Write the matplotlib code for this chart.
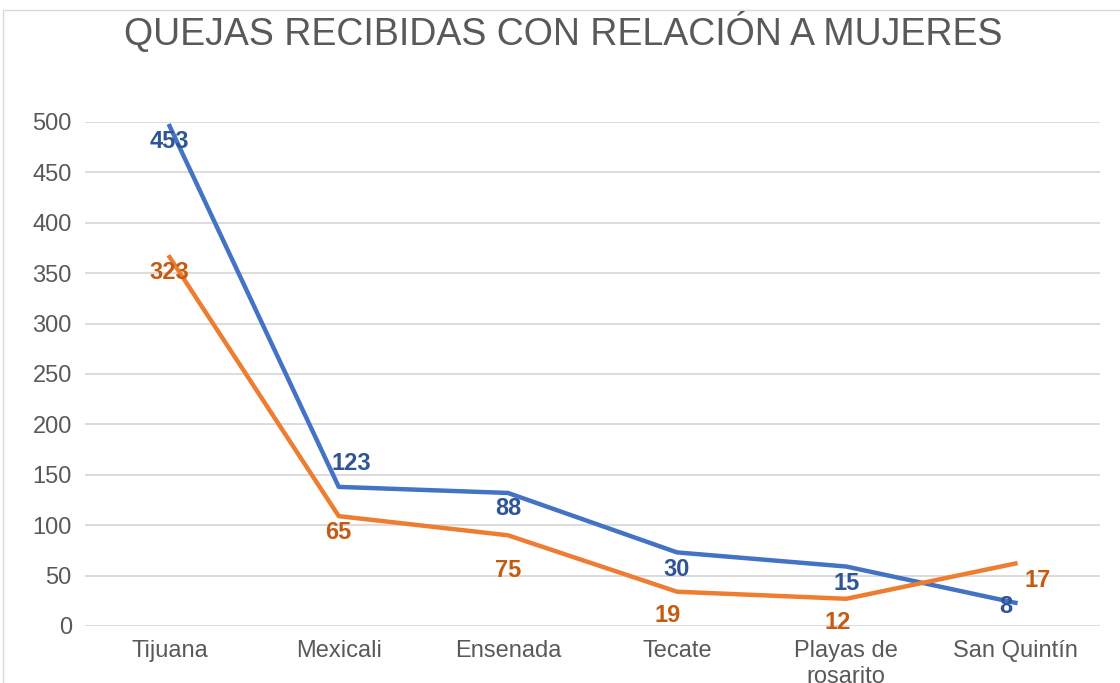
import matplotlib.pyplot as plt
from matplotlib.patches import Rectangle

plt.rcParams['font.family'] = ['Liberation Sans', 'DejaVu Sans']

municipios = ["Tijuana", "Mexicali", "Ensenada", "Tecate", "Playas de\nrosarito", "San Quintín"]
# plotted positions of the two lines
serie_azul = [496, 138, 132, 73, 59, 23]
serie_naranja = [366, 109, 90, 34, 27, 62]
# data labels as printed on the chart
etiquetas_azul = ["453", "123", "88", "30", "15", "8"]
etiquetas_naranja = ["323", "65", "75", "19", "12", "17"]
yticks = [0, 50, 100, 150, 200, 250, 300, 350, 400, 450, 500]

gris = "#595959"
azul, azul_txt = "#4472C4", "#2F5597"
naranja, naranja_txt = "#ED7D31", "#C55A11"


def main():
    fig = plt.figure(figsize=(11.2, 6.83), dpi=100)
    fig.patches.append(Rectangle((3 / 1120, -0.1), 1.2, 1 - 10 / 683 + 0.1, transform=fig.transFigure,
                                 fill=False, edgecolor="#d9d9d9", linewidth=1))
    ax = fig.add_axes([85 / 1120, 1 - 626 / 683, 1015 / 1120, 504 / 683])

    x = list(range(len(municipios)))
    ax.plot(x, serie_azul, color=azul, linewidth=3.2, clip_on=False, zorder=3)
    ax.plot(x, serie_naranja, color=naranja, linewidth=3.2, clip_on=False, zorder=3)

    # label offsets in points (dx, dy)
    off_azul = [(0, -11), (9, 17), (0, -11), (0, -12), (0, -12), (-7, -3)]
    off_naranja = [(0, -11), (0, -12), (0, -25), (-7, -17), (-6, -17), (16, -12)]
    for i in x:
        ax.annotate(etiquetas_azul[i], (i, serie_azul[i]), xytext=off_azul[i], textcoords="offset points",
                    ha="center", va="center", color=azul_txt, fontsize=17, fontweight="bold", zorder=4)
        ax.annotate(etiquetas_naranja[i], (i, serie_naranja[i]), xytext=off_naranja[i], textcoords="offset points",
                    ha="center", va="center", color=naranja_txt, fontsize=17, fontweight="bold", zorder=4)

    ax.set_xlim(-0.5, len(municipios) - 0.5)
    ax.set_ylim(0, 500)
    ax.set_yticks(yticks)
    ax.set_xticks(x)
    ax.set_xticklabels(municipios, va="top")
    ax.tick_params(axis="both", length=0, colors=gris, labelsize=17)
    ax.tick_params(axis="y", pad=9.5)
    ax.tick_params(axis="x", pad=10)
    for lab in ax.get_xticklabels():
        lab.set_linespacing(1.25)
    ax.grid(axis="y", color="#d9d9d9", linewidth=1.3)
    ax.set_axisbelow(True)
    for s in ax.spines.values():
        s.set_visible(False)

    fig.text(0.503, 1 - 33 / 683, "QUEJAS RECIBIDAS CON RELACIÓN A MUJERES", ha="center", va="center",
             fontsize=27, color=gris)

    fig.savefig("out.png", dpi=100)


if __name__ == "__main__":
    main()
